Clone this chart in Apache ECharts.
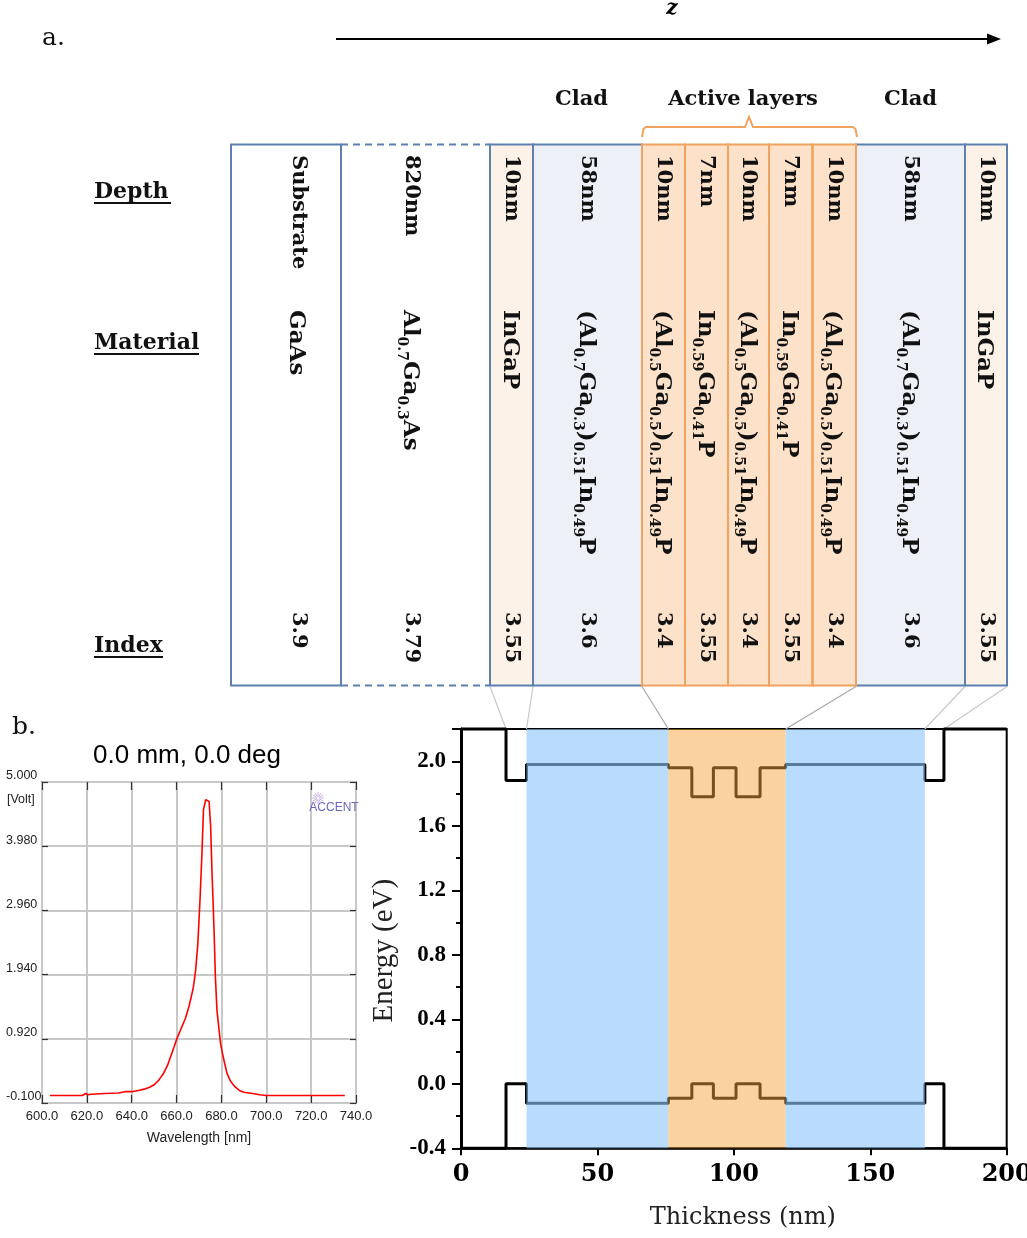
<!DOCTYPE html>
<html><head><meta charset="utf-8">
<script src="https://cdn.jsdelivr.net/npm/echarts@6/dist/echarts.min.js"></script>
<style>html,body{margin:0;padding:0;background:#fff}#c{width:1027px;height:1238px}</style>
</head><body><div id="c"></div>
<script>
// ================= DATA =================
// (a) layer stack
const layerDepth = ['Substrate','820nm','10nm','58nm','10nm','7nm','10nm','7nm','10nm','58nm','10nm'];
const layerMaterial = ['GaAs','Al_{0.7}Ga_{0.3}As','InGaP','(Al_{0.7}Ga_{0.3})_{0.51}In_{0.49}P',
  '(Al_{0.5}Ga_{0.5})_{0.51}In_{0.49}P','In_{0.59}Ga_{0.41}P','(Al_{0.5}Ga_{0.5})_{0.51}In_{0.49}P',
  'In_{0.59}Ga_{0.41}P','(Al_{0.5}Ga_{0.5})_{0.51}In_{0.49}P','(Al_{0.7}Ga_{0.3})_{0.51}In_{0.49}P','InGaP'];
const layerIndex = ['3.9','3.79','3.55','3.6','3.4','3.55','3.4','3.55','3.4','3.6','3.55'];
const layerKind = ['substrate','buffer','ingap','clad','active','active','active','active','active','clad','ingap'];
const rowLabels = ['Depth','Material','Index'];
const groupLabels = ['Clad','Active layers','Clad'];

// (b) photoluminescence spectrum
const plWavelength = [603.5,612,618,619.5,620.5,622,628,634,637,640,643,645.5,648,650,652,654,656,657.5,659,660,662,664,665.5,666.5,667.5,668.5,669.5,670.5,671.2,672,673,673.7,674.5,675.2,675.8,676.2,676.8,677.3,678,678.8,679.6,680.5,681.5,682.5,684,686,688,690,694,697,700,710,720,735];
const plVoltage    = [0.02,0.02,0.02,0.05,0.03,0.04,0.05,0.06,0.08,0.08,0.10,0.12,0.15,0.19,0.26,0.36,0.50,0.65,0.80,0.91,1.08,1.25,1.43,1.58,1.74,2.01,2.44,3.17,3.76,4.56,4.72,4.75,4.69,4.29,3.55,3.18,2.54,1.91,1.38,1.11,0.85,0.68,0.52,0.37,0.25,0.16,0.10,0.07,0.05,0.03,0.02,0.02,0.02,0.02];

// (b) band diagram
const bandEdges = [0,16.5,24,76,84.6,92.5,100.8,109.6,119,170,177,200];
const cbLevels  = [2.2,1.88,1.98,1.96,1.78,1.96,1.78,1.96,1.98,1.88,2.2];
const vbLevels  = [-0.4,0.0,-0.12,-0.09,0.0,-0.09,0.0,-0.09,-0.12,0.0,-0.4];
const regionStart = [24,76,119];
const regionEnd   = [76,119,170];
const regionKind  = ['clad','active','clad'];

// ================= LAYOUT / STYLE =================
const colX = [231,341,490,533,642,685,728,769,812.5,856,965,1007];
const boxTop = 144.5, boxBot = 685.5;
const textShift = [12,-4,0,0,0,0,0,0,0,0,0];
const serif = '"DejaVu Serif", serif';
const blueStroke = '#5d80ad', orangeStroke = '#f0a25e';
const kindFill = {substrate:'#ffffff', buffer:'#ffffff', ingap:'#fdf2e8', clad:'#edf1f7', active:'#fde1c8'};
const overlayFill = {clad:'rgba(143,198,250,0.62)', active:'rgba(245,163,61,0.49)'};
const bandYMin = -0.4, bandYMax = 2.2;

function toRich(s){
  let out=''; const re=/_\{([^}]*)\}/g; let last=0, m;
  while((m=re.exec(s))){ if(m.index>last) out+='{m|'+s.slice(last,m.index)+'}'; out+='{s|'+m[1]+'}'; last=re.lastIndex; }
  if(last<s.length) out+='{m|'+s.slice(last)+'}';
  return out;
}

const chart = echarts.init(document.getElementById('c'), null, {renderer:'canvas'});

function steps(levels){
  const pts=[];
  for(let i=0;i<levels.length;i++){ pts.push([bandEdges[i],levels[i]]); pts.push([bandEdges[i+1],levels[i]]); }
  return pts;
}
const narrow = '"Liberation Sans Narrow","Liberation Sans",sans-serif';

chart.setOption({
  animation:false,
  backgroundColor:'#ffffff',
  grid:[
    {left:42, top:782, right:671, bottom:135, show:true, borderColor:'#333', borderWidth:1.5, backgroundColor:'transparent', outerBoundsMode:'none', containLabel:false},
    {left:461, top:729, right:20.3, bottom:89.7, show:true, borderColor:'#000', borderWidth:2, backgroundColor:'transparent', outerBoundsMode:'none', containLabel:false}
  ],
  xAxis:[
    {gridIndex:0, type:'value', min:600, max:740, interval:20,
     axisLine:{show:false, onZero:false}, axisTick:{show:true, inside:true, length:8, lineStyle:{color:'#333', width:1.2}},
     axisLabel:{formatter:v=>v.toFixed(1), fontFamily:narrow, fontSize:13, color:'#222', margin:7},
     splitLine:{show:true, lineStyle:{color:'#c8c8c8', width:2}},
     name:'Wavelength [nm]', nameLocation:'middle', nameGap:28, nameTextStyle:{fontFamily:narrow, fontSize:14, color:'#222'}},
    {gridIndex:0, type:'value', min:600, max:740, interval:20, position:'top',
     axisLine:{show:false, onZero:false}, axisTick:{show:true, inside:true, length:8, lineStyle:{color:'#333', width:1.2}},
     axisLabel:{show:false}, splitLine:{show:false}},
    {gridIndex:1, type:'value', min:0, max:200, interval:50,
     axisLine:{show:true, onZero:false, lineStyle:{color:'#000', width:2.5}},
     axisTick:{show:true, length:7, lineStyle:{color:'#000', width:2}},
     axisLabel:{fontFamily:serif, fontWeight:'bold', fontSize:24, color:'#000', margin:14},
     splitLine:{show:false},
     name:'Thickness (nm)', nameLocation:'middle', nameGap:57,
     nameTextStyle:{fontFamily:serif, fontSize:24, color:'#222', padding:[0,0,0,18]}}
  ],
  yAxis:[
    {gridIndex:0, type:'value', min:-0.1, max:5.0, interval:1.02,
     axisLine:{show:false, onZero:false}, axisTick:{show:true, inside:true, length:6, lineStyle:{color:'#333', width:1.2}},
     axisLabel:{formatter:v=>v.toFixed(3), fontFamily:narrow, fontSize:12.5, color:'#222', align:'left', margin:36, verticalAlign:'bottom', lineHeight:12},
     splitLine:{show:true, lineStyle:{color:'#c8c8c8', width:2}}},
    {gridIndex:0, type:'value', min:-0.1, max:5.0, interval:1.02, position:'right',
     axisLine:{show:false, onZero:false}, axisTick:{show:true, inside:true, length:6, lineStyle:{color:'#333', width:1.2}},
     axisLabel:{show:false}, splitLine:{show:false}},
    {gridIndex:1, type:'value', min:bandYMin, max:bandYMax, interval:0.4,
     axisLine:{show:true, onZero:false, lineStyle:{color:'#000', width:3}},
     axisTick:{show:true, length:9, lineStyle:{color:'#000', width:2}},
     minorTick:{show:true, splitNumber:2, length:5, lineStyle:{color:'#000', width:2}},
     axisLabel:{formatter:v=>Math.abs(v-bandYMax)<1e-6?'':v.toFixed(1), fontFamily:'"Liberation Serif", serif', fontWeight:'bold', fontSize:23, color:'#000', margin:15},
     splitLine:{show:false},
     name:'Energy (eV)', nameLocation:'middle', nameGap:61, nameRotate:90,
     nameTextStyle:{fontFamily:'"Liberation Serif", serif', fontSize:29, color:'#222', padding:[0,24,0,0]}}
  ],
  series:[
    {type:'line', xAxisIndex:0, yAxisIndex:0, data:plWavelength.map((w,i)=>[w,plVoltage[i]]),
     showSymbol:false, symbol:'none', lineStyle:{color:'#ff0000', width:1.6}, itemStyle:{color:'#ff0000'}, z:3},
    {type:'line', xAxisIndex:2, yAxisIndex:2, data:steps(cbLevels), symbol:'none', clip:false,
     lineStyle:{color:'#000', width:3}, itemStyle:{color:'#000'}, z:2},
    {type:'line', xAxisIndex:2, yAxisIndex:2, data:steps(vbLevels), symbol:'none', clip:false,
     lineStyle:{color:'#000', width:3}, itemStyle:{color:'#000'}, z:2},
    {type:'custom', xAxisIndex:2, yAxisIndex:2, z:10, clip:false,
     data:regionStart.map((s,i)=>[s, regionEnd[i], i]),
     encode:{x:[0,1]},
     renderItem:(params, api)=>{
       const k = regionKind[api.value(2)];
       const p0 = api.coord([api.value(0), bandYMax]);
       const p1 = api.coord([api.value(1), bandYMin]);
       return {type:'rect', shape:{x:p0[0], y:p0[1], width:p1[0]-p0[0], height:p1[1]-p0[1]}, style:{fill:overlayFill[k]}};
     }}
  ]
});

// ================= GRAPHIC (diagram a, labels, connectors) =================
const g = [];
g.push({type:'text', x:42, y:38, style:{text:'a.', font:'25px '+serif, fill:'#111', align:'left', verticalAlign:'middle'}});
g.push({type:'text', x:12, y:727, style:{text:'b.', font:'25px '+serif, fill:'#111', align:'left', verticalAlign:'middle'}});
g.push({type:'line', shape:{x1:336, y1:39, x2:990, y2:39}, style:{stroke:'#000', lineWidth:2}});
g.push({type:'polygon', shape:{points:[[1001,39],[987,33.5],[987,44.5]]}, style:{fill:'#000'}});
g.push({type:'text', x:672, y:9, style:{text:'z', font:'italic bold 20px '+serif, fill:'#000', align:'center', verticalAlign:'middle'}});
const groupCx = [(colX[3]+colX[4])/2-6, (colX[4]+colX[9])/2-6, (colX[9]+colX[10])/2];
groupLabels.forEach((t,i)=>g.push({type:'text', x:groupCx[i], y:100, style:{text:t, font:'bold 21px '+serif, fill:'#111', align:'center', verticalAlign:'middle'}}));
g.push({type:'polyline', shape:{points:[[642,137],[643.5,129],[646,127],[745,127],[749,117],[753,127],[853,127],[855.5,129],[857,137]]},
        style:{stroke:orangeStroke, lineWidth:2, fill:null}});
const rowY = [192, 343, 646];
const rowW = [77, 105, 69];
rowLabels.forEach((t,i)=>{
  g.push({type:'text', x:94, y:rowY[i], style:{text:t, font:'bold 22px '+serif, fill:'#111', align:'left', verticalAlign:'middle'}});
  g.push({type:'line', shape:{x1:94, y1:rowY[i]+11, x2:94+rowW[i], y2:rowY[i]+11}, style:{stroke:'#111', lineWidth:2}});
});
layerKind.forEach((k,i)=>{
  const x0=colX[i], x1=colX[i+1];
  if(k!=='buffer') g.push({type:'rect', shape:{x:x0, y:boxTop, width:x1-x0, height:boxBot-boxTop}, style:{fill:kindFill[k], stroke:null}});
});
layerKind.forEach((k,i)=>{
  const x0=colX[i], x1=colX[i+1];
  if(k==='buffer'){
    g.push({type:'line', shape:{x1:x0, y1:boxTop, x2:x1, y2:boxTop}, style:{stroke:blueStroke, lineWidth:2, lineDash:[7,5]}});
    g.push({type:'line', shape:{x1:x0, y1:boxBot, x2:x1, y2:boxBot}, style:{stroke:blueStroke, lineWidth:2, lineDash:[7,5]}});
  } else if(k!=='active'){
    g.push({type:'rect', shape:{x:x0, y:boxTop, width:x1-x0, height:boxBot-boxTop}, style:{fill:null, stroke:blueStroke, lineWidth:2}});
  }
});
layerKind.forEach((k,i)=>{
  const x0=colX[i], x1=colX[i+1];
  if(k==='active') g.push({type:'rect', shape:{x:x0, y:boxTop, width:x1-x0, height:boxBot-boxTop}, style:{fill:null, stroke:orangeStroke, lineWidth:2}});
});
const richStyle = {
  m:{fontFamily:serif, fontWeight:'bold', fontSize:23, lineHeight:30, fill:'#111'},
  s:{fontFamily:serif, fontWeight:'bold', fontSize:14, lineHeight:14, verticalAlign:'bottom', fill:'#111'}
};
layerKind.forEach((k,i)=>{
  const cx=(colX[i]+colX[i+1])/2 + textShift[i];
  g.push({type:'text', x:cx, y:155, rotation:-Math.PI/2, style:{text:layerDepth[i], font:'bold 21px '+serif, fill:'#111', align:'left', verticalAlign:'middle'}});
  g.push({type:'text', x:cx-2, y:310, rotation:-Math.PI/2, style:{text:toRich(layerMaterial[i]), rich:richStyle, align:'left', verticalAlign:'middle'}});
  g.push({type:'text', x:cx, y:612, rotation:-Math.PI/2, style:{text:layerIndex[i], font:'bold 21px '+serif, fill:'#111', align:'left', verticalAlign:'middle'}});
});
const connectors = [[2,1,'#c8c8c8'],[3,2,'#c8c8c8'],[4,3,'#a8a8a8'],[9,8,'#a8a8a8'],[10,9,'#c8c8c8'],[11,10,'#c8c8c8']];
connectors.forEach(([ci,bi,col])=>{
  const p = chart.convertToPixel({xAxisIndex:2, yAxisIndex:2}, [bandEdges[bi], bandYMax]);
  g.push({type:'line', shape:{x1:colX[ci], y1:boxBot+1, x2:p[0], y2:p[1]}, style:{stroke:col, lineWidth:1.2}});
});
g.push({type:'text', x:187, y:756, style:{text:'0.0 mm, 0.0 deg', font:'26px "Liberation Sans", Arial, sans-serif', fill:'#000', align:'center', verticalAlign:'middle'}});
g.push({type:'text', x:7, y:800, style:{text:'[Volt]', font:'12.5px '+narrow, fill:'#222', align:'left', verticalAlign:'middle'}});
g.push({type:'text', x:334, y:808, style:{text:'ACCENT', font:'12px '+narrow, fill:'#6a66c0', align:'center', verticalAlign:'middle'}});
for(let a=0;a<12;a++){
  const ang=a*Math.PI/6, r0=1.5, r1=6;
  g.push({type:'line', shape:{x1:318+r0*Math.cos(ang), y1:798+r0*Math.sin(ang), x2:318+r1*Math.cos(ang), y2:798+r1*Math.sin(ang)}, style:{stroke:'#c8b4e8', lineWidth:1}});
}
chart.setOption({graphic:{elements:g}});
</script></body></html>
